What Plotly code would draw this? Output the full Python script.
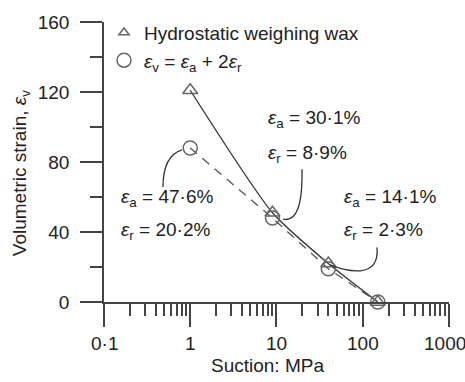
import math
import plotly.graph_objects as go

# Data
suction = [1, 9, 40, 150]
hydro_wax = [121, 51, 22, 0]
calc_strain = [88, 48, 19, 0]

x_tickvals = [0.1, 1, 10, 100, 1000]
x_ticktext = ["0·1", "1", "10", "100", "1000"]
y_tickvals = [0, 40, 80, 120, 160]
y_minor = [20, 60, 100, 140]
x_minor = [m * d for d in [0.1, 1, 10, 100] for m in range(2, 10)]

GREY = "#666666"
INK = "#222222"
AX = "#444444"
FONT = dict(family="Liberation Sans, Arial, sans-serif", size=19, color=INK)

fig = go.Figure()

# fitted lines
fig.add_trace(go.Scatter(x=suction, y=hydro_wax, mode="lines",
                         line=dict(color="#333333", width=1.3, shape="spline", smoothing=0.6),
                         showlegend=False, cliponaxis=False, hoverinfo="skip"))
fig.add_trace(go.Scatter(x=suction, y=calc_strain, mode="lines",
                         line=dict(color="#555555", width=1.3, dash="9px,7px"),
                         showlegend=False, cliponaxis=False, hoverinfo="skip"))
# markers
fig.add_trace(go.Scatter(x=suction, y=hydro_wax, mode="markers", showlegend=False,
                         marker=dict(symbol="triangle-up-open", size=13, color=GREY,
                                     line=dict(width=1.5, color=GREY)),
                         cliponaxis=False))
fig.add_trace(go.Scatter(x=suction, y=calc_strain, mode="markers", showlegend=False,
                         marker=dict(symbol="circle-open", size=14, color=GREY,
                                     line=dict(width=1.5, color=GREY)),
                         cliponaxis=False))
# legend entries
fig.add_trace(go.Scatter(x=[None], y=[None], mode="markers",
                         name="Hydrostatic weighing wax",
                         marker=dict(symbol="triangle-up-open", size=9, color=GREY,
                                     line=dict(width=1.5, color=GREY))))
fig.add_trace(go.Scatter(x=[None], y=[None], mode="markers",
                         name="<i>ε</i><sub>v</sub> = <i>ε</i><sub>a</sub> + 2<i>ε</i><sub>r</sub>",
                         marker=dict(symbol="circle-open", size=14, color=GREY,
                                     line=dict(width=1.5, color=GREY))))

# x tick labels as annotations placed by the log axis
for v, t in zip(x_tickvals, x_ticktext):
    fig.add_annotation(text=t, x=math.log10(v), xref="x", y=0, yref="paper",
                       yanchor="middle", xanchor="center", yshift=-41,
                       xshift=-4 if v == 1000 else 0,
                       showarrow=False, font=FONT)

# plot area in pixels: x 104..449, y 15..302
L, R, T, B = 104, 449, 15, 302
def px(x):
    return (x - L) / (R - L)
def py(y):
    return (B - y) / (B - T)

def ann(text, x, y, angle=0, anchor="left"):
    fig.add_annotation(text=text, x=px(x), y=py(y), xref="paper", yref="paper",
                       xanchor=anchor, yanchor="middle", showarrow=False, font=FONT,
                       textangle=angle)

ann("<i>ε</i><sub>a</sub> = 30·1%", 266, 114)
ann("<i>ε</i><sub>r</sub> = 8·9%", 266, 150)
ann("<i>ε</i><sub>a</sub> = 47·6%", 119, 195)
ann("<i>ε</i><sub>r</sub> = 20·2%", 119, 229)
ann("<i>ε</i><sub>a</sub> = 14·1%", 342, 195)
ann("<i>ε</i><sub>r</sub> = 2·3%", 342, 229)
# axis titles
ann("Suction: MPa", 267, 367, anchor="center")
ann("Volumetric strain, <i>ε</i><sub>v</sub>", 21, 170, angle=-90, anchor="center")

def curve(points):
    p = [(px(a), py(b)) for a, b in points]
    if len(p) == 3:
        d = f"M {p[0][0]},{p[0][1]} Q {p[1][0]},{p[1][1]} {p[2][0]},{p[2][1]}"
    else:
        d = f"M {p[0][0]},{p[0][1]} C {p[1][0]},{p[1][1]} {p[2][0]},{p[2][1]} {p[3][0]},{p[3][1]}"
    fig.add_shape(type="path", path=d, xref="paper", yref="paper",
                  line=dict(color="#333333", width=1.3))

curve([(163, 184), (163, 152), (182, 146)])
curve([(302, 166), (303, 222), (283, 217)])
curve([(377, 246), (380, 280), (345, 270), (330, 264)])

fig.update_layout(
    width=465, height=382,
    margin=dict(l=L, r=465 - R, t=T, b=382 - B),
    paper_bgcolor="white", plot_bgcolor="white",
    font=FONT,
    showlegend=True,
    legend=dict(x=0.0, y=1.03, xanchor="left", yanchor="top",
                bgcolor="rgba(0,0,0,0)", font=FONT, itemwidth=30,
                tracegroupgap=0),
    xaxis=dict(type="log", range=[-1, 3.002], showgrid=False, zeroline=False,
               showline=True, linecolor=AX, linewidth=1.5,
               tickvals=x_tickvals, showticklabels=False,
               ticks="outside", ticklen=23, tickwidth=1.5, tickcolor=AX,
               minor=dict(tickvals=x_minor, ticks="outside", ticklen=12,
                          tickwidth=1.5, tickcolor=AX)),
    yaxis=dict(range=[0, 160], showgrid=False, zeroline=False,
               showline=True, linecolor=AX, linewidth=1.5,
               tickvals=y_tickvals,
               ticks="outside", ticklen=22, tickwidth=1.5, tickcolor=AX,
               ticklabelstandoff=7,
               minor=dict(tickvals=y_minor, ticks="outside", ticklen=12,
                          tickwidth=1.5, tickcolor=AX)),
)

fig.write_html("out.html")
